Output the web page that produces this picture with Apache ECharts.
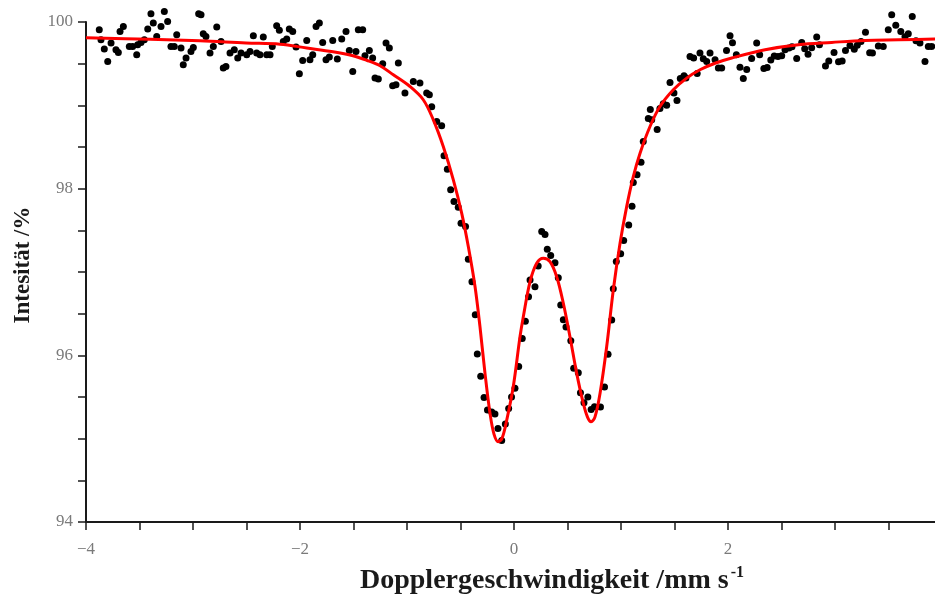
<!DOCTYPE html>
<html>
<head>
<meta charset="utf-8">
<script src="https://cdn.jsdelivr.net/npm/echarts@6/dist/echarts.min.js"></script>
<style>html,body{margin:0;padding:0;background:#fff}#c{width:935px;height:595px}</style>
</head>
<body>
<div id="c"></div>
<script>
// ---- data ----
const xTicks = [-4, -2, 0, 2, 4];
const yTicks = [94, 96, 98, 100];
const xTitle = 'Dopplergeschwindigkeit /mm s';
const xTitleSup = '-1';
const yTitle = 'Intesität /%';

// measured points: velocity (mm/s)
const measX = [
-3.876,-3.860,-3.829,-3.797,-3.766,-3.720,-3.698,-3.682,-3.651,-3.595,-3.564,-3.526,-3.517,-3.486,-3.455,-3.423,-3.393,-3.371,-3.339,-3.299,-3.268,-3.237,-3.206,-3.175,-3.152,-3.112,-3.091,-3.065,-3.019,-2.997,-2.947,-2.925,-2.904,-2.879,-2.841,-2.810,-2.778,-2.738,-2.717,-2.692,-2.654,-2.614,-2.582,-2.551,
-2.498,-2.467,-2.436,-2.405,-2.374,-2.343,-2.311,-2.280,-2.259,-2.218,-2.193,-2.156,-2.124,-2.100,-2.068,-2.037,-2.006,-1.975,-1.937,-1.907,-1.881,-1.850,-1.819,-1.788,-1.757,-1.726,-1.694,-1.651,-1.610,-1.570,-1.539,-1.507,-1.477,-1.455,-1.414,-1.393,-1.352,-1.321,-1.299,-1.268,-1.227,-1.196,-1.165,-1.134,-1.103,-1.081,
-1.019,-0.941,-0.879,-0.816,-0.791,-0.769,-0.722,-0.676,-0.654,-0.623,-0.592,-0.561,-0.521,-0.495,-0.453,-0.427,-0.393,-0.362,-0.343,-0.311,-0.280,-0.248,-0.208,-0.178,-0.150,-0.115,-0.081,-0.050,-0.023,0.009,0.044,0.077,0.106,0.136,0.150,0.196,0.226,0.259,0.290,0.311,0.343,0.383,0.414,0.437,0.461,0.486,0.531,0.558,0.601,0.621,0.654,0.690,0.721,0.752,0.808,0.846,0.879,0.913,0.928,0.956,0.997,1.025,1.072,1.103,1.115,1.150,1.187,1.208,1.255,1.274,1.287,1.338,1.364,1.395,1.427,1.458,1.495,1.523,1.554,1.589,1.607,1.645,1.679,1.712,1.738,1.769,1.801,1.832,1.879,1.910,1.941,
1.986,2.019,2.042,2.078,2.112,2.143,2.175,2.221,2.268,2.296,2.335,2.366,2.400,2.432,2.467,2.502,2.533,2.570,2.598,2.642,2.689,2.717,2.748,2.782,2.829,2.855,2.911,2.942,2.991,3.033,3.067,3.098,3.140,3.180,3.208,3.243,3.285,3.324,3.350,3.405,3.451,3.498,3.530,3.568,3.615,3.654,3.685,3.722,3.757,3.794,3.841,3.872,3.904
];
// measured points: intensity (%)
const measY = [
99.907,99.787,99.676,99.527,99.748,99.667,99.635,99.887,99.947,99.707,99.707,99.607,99.727,99.755,99.787,99.916,100.100,99.988,99.827,99.947,100.127,100.007,99.707,99.707,99.847,99.688,99.487,99.568,99.647,99.695,100.100,100.088,99.860,99.827,99.628,99.707,99.940,99.767,99.447,99.467,99.628,99.667,99.568,99.628,
99.607,99.647,99.835,99.628,99.607,99.820,99.607,99.607,99.707,99.956,99.900,99.767,99.796,99.916,99.887,99.700,99.379,99.539,99.779,99.547,99.607,99.947,99.988,99.755,99.547,99.580,99.779,99.556,99.796,99.887,99.659,99.407,99.647,99.907,99.907,99.595,99.659,99.568,99.327,99.315,99.499,99.748,99.688,99.235,99.247,99.508,
99.147,99.286,99.267,99.147,99.127,98.983,98.806,98.754,98.394,98.234,97.986,97.845,97.778,97.586,97.545,97.153,96.884,96.488,96.016,95.748,95.493,95.343,95.319,95.295,95.123,94.979,95.175,95.363,95.499,95.604,95.865,96.202,96.410,96.704,96.904,96.824,97.073,97.485,97.449,97.274,97.199,97.112,96.931,96.604,96.428,96.340,96.174,95.844,95.791,95.551,95.431,95.499,95.351,95.383,95.379,95.619,96.013,96.424,96.800,97.127,97.220,97.379,97.565,97.790,98.073,98.166,98.316,98.566,98.841,98.950,98.826,98.710,98.961,99.019,99.001,99.274,99.147,99.058,99.323,99.355,99.327,99.587,99.568,99.383,99.628,99.559,99.527,99.628,99.547,99.447,99.447,
99.659,99.835,99.751,99.607,99.457,99.321,99.431,99.562,99.748,99.607,99.441,99.453,99.544,99.592,99.587,99.595,99.667,99.688,99.703,99.562,99.755,99.679,99.613,99.691,99.820,99.727,99.471,99.533,99.635,99.523,99.532,99.659,99.718,99.672,99.721,99.767,99.877,99.631,99.628,99.712,99.707,99.907,100.088,99.962,99.887,99.823,99.859,100.067,99.775,99.748,99.527,99.707,99.707
];

// fitted curve
const fitX = [-4.0,-3.40,-2.935,-2.505,-2.187,-1.937,-1.692,-1.505,-1.377,-1.252,-1.128,-0.972,-0.848,-0.754,-0.661,-0.567,-0.489,-0.427,-0.364,-0.318,-0.271,-0.224,-0.187,-0.147,-0.112,-0.068,-0.007,0.056,0.087,0.150,0.212,0.274,0.336,0.399,0.461,0.523,0.586,0.648,0.687,0.720,0.757,0.804,0.866,0.928,0.991,1.053,1.115,1.178,1.271,1.364,1.489,1.614,1.738,1.879,2.035,2.346,2.657,2.969,3.280,3.592,3.935,4.0];
const fitY = [99.811,99.793,99.775,99.748,99.733,99.688,99.643,99.595,99.541,99.475,99.367,99.226,99.067,98.826,98.506,98.106,97.706,97.305,96.824,96.344,95.784,95.303,95.055,94.962,95.003,95.223,95.623,96.223,96.464,96.884,97.105,97.165,97.124,96.944,96.625,96.223,95.784,95.423,95.259,95.202,95.262,95.543,96.103,96.784,97.345,97.785,98.145,98.426,98.746,98.986,99.187,99.327,99.427,99.505,99.568,99.667,99.727,99.755,99.779,99.787,99.796,99.798];

// ---- chart ----
const pts = measX.map((x, i) => [x, measY[i]]);
const fit = fitX.map((x, i) => [x, fitY[i]]);
const minus = v => String(v).replace('-', '\u2212');
const serif = '"Liberation Serif", "DejaVu Serif", serif';
const axisCol = '#1a1a1a';

const chart = echarts.init(document.getElementById('c'), null, {renderer: 'canvas'});
chart.setOption({
  animation: false,
  backgroundColor: '#ffffff',
  grid: {left: 86, top: 22, bottom: 73, right: -7, containLabel: false, outerBoundsMode: 'none'},
  xAxis: {
    type: 'value',
    min: xTicks[0], max: xTicks[xTicks.length - 1], interval: xTicks[1] - xTicks[0],
    splitLine: {show: false},
    axisLine: {onZero: false, lineStyle: {color: axisCol, width: 2}},
    axisTick: {show: true, inside: false, length: 8, lineStyle: {color: axisCol, width: 1.5}},
    minorTick: {show: true, splitNumber: 4, length: 8, lineStyle: {color: axisCol, width: 1.5}},
    axisLabel: {margin: 19, color: '#7a7a7a', fontFamily: serif, fontSize: 17, formatter: minus},
    name: '{a|' + xTitle + '}{s|' + xTitleSup + '}',
    nameLocation: 'middle',
    nameGap: 43,
    nameTextStyle: {
      padding: [0, 0, 0, 76],
      rich: {
        a: {fontFamily: serif, fontWeight: 'bold', fontSize: 28, color: '#1a1a1a', lineHeight: 30, verticalAlign: 'bottom'},
        s: {fontFamily: serif, fontWeight: 'bold', fontSize: 16, color: '#1a1a1a', lineHeight: 30, verticalAlign: 'top', padding: [0, 0, 0, 2]}
      }
    }
  },
  yAxis: {
    type: 'value',
    min: yTicks[0], max: yTicks[yTicks.length - 1], interval: yTicks[1] - yTicks[0],
    splitLine: {show: false},
    axisLine: {onZero: false, lineStyle: {color: axisCol, width: 2}},
    axisTick: {show: true, inside: false, length: 8, lineStyle: {color: axisCol, width: 1.5}},
    minorTick: {show: true, splitNumber: 4, length: 8, lineStyle: {color: axisCol, width: 1.5}},
    axisLabel: {margin: 13, color: '#7a7a7a', fontFamily: serif, fontSize: 17, formatter: minus},
    name: yTitle,
    nameLocation: 'middle',
    nameGap: 51,
    nameTextStyle: {fontFamily: serif, fontWeight: 'bold', fontSize: 23, color: '#1a1a1a', padding: [0, 0, 0, 14]}
  },
  series: [
    {
      type: 'scatter',
      data: pts,
      symbol: 'circle',
      symbolSize: 7,
      clip: false,
      itemStyle: {color: '#000000', opacity: 1},
      z: 2
    },
    {
      type: 'line',
      data: fit,
      showSymbol: false,
      smooth: 0.35,
      clip: false,
      lineStyle: {color: '#ff0000', width: 3},
      z: 3
    }
  ]
});
</script>
</body>
</html>
